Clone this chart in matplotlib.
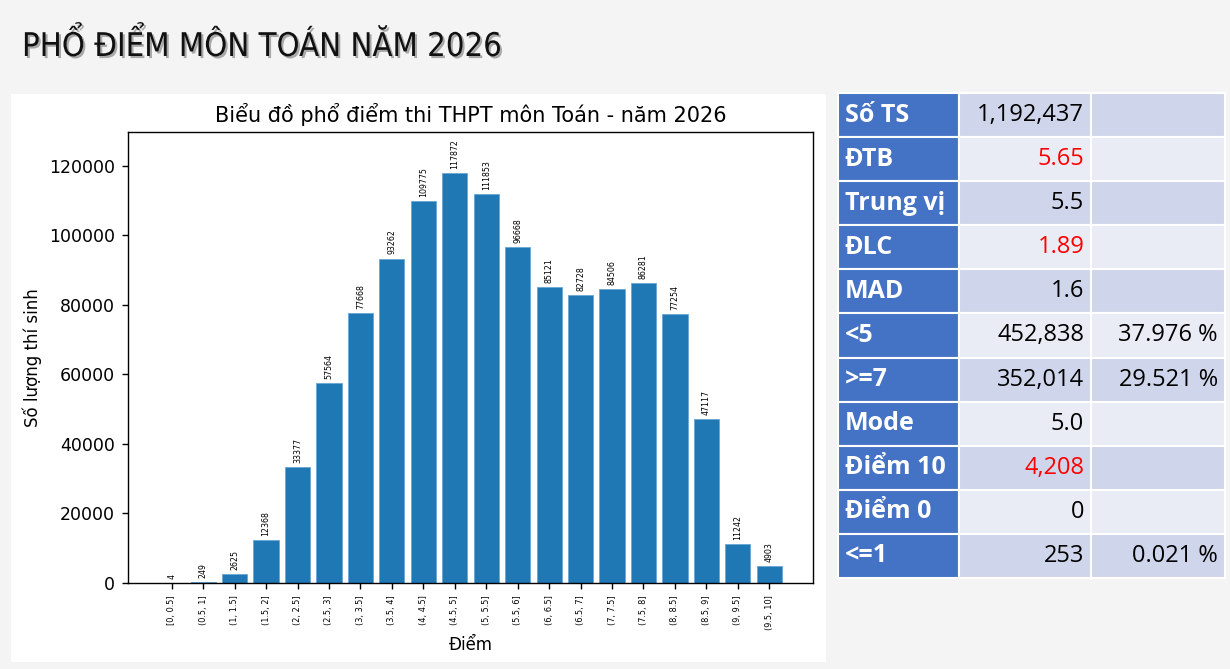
import matplotlib
matplotlib.use('Agg')
import matplotlib.pyplot as plt
import matplotlib.patheffects as pe
from matplotlib.patches import Rectangle
from matplotlib import font_manager

# du lieu pho diem
khoang_diem = ['[0, 0.5]', '(0.5, 1]', '(1, 1.5]', '(1.5, 2]', '(2, 2.5]',
               '(2.5, 3]', '(3, 3.5]', '(3.5, 4]', '(4, 4.5]', '(4.5, 5]',
               '(5, 5.5]', '(5.5, 6]', '(6, 6.5]', '(6.5, 7]', '(7, 7.5]',
               '(7.5, 8]', '(8, 8.5]', '(8.5, 9]', '(9, 9.5]', '(9.5, 10]']
so_luong = [4, 249, 2625, 12368, 33377, 57564, 77668, 93262, 109775, 117872,
            111853, 96668, 85121, 82728, 84506, 86281, 77254, 47117, 11242, 4903]

# bang thong ke
ten_chi_so = ['Số TS', 'ĐTB', 'Trung vị', 'ĐLC', 'MAD', '<5', '>=7',
              'Mode', 'Điểm 10', 'Điểm 0', '<=1']
gia_tri = ['1,192,437', '5.65', '5.5', '1.89', '1.6', '452,838', '352,014',
           '5.0', '4,208', '0', '253']
ti_le = ['', '', '', '', '', '37.976 %', '29.521 %', '', '', '', '0.021 %']
to_do = ['ĐTB', 'ĐLC', 'Điểm 10']  # gia tri mau do

# chon font co san
fonts = font_manager.fontManager.ttflist
def co_font(ten, dam=None, gian=None):
    for f in fonts:
        if f.name != ten:
            continue
        if dam is not None and not (f.weight == dam or f.weight == 'bold' and dam == 700):
            continue
        if gian is not None and f.stretch != gian:
            continue
        return True
    return False

font_bang = 'Noto Sans'
for ten in ['Open Sans', 'Noto Sans', 'Lato', 'Roboto']:
    if co_font(ten, dam=700):
        font_bang = ten
        break

if co_font('Liberation Sans Narrow'):
    font_td, gian_td, size_td = 'Liberation Sans Narrow', 'normal', 26
elif co_font('DejaVu Sans', gian='condensed'):
    font_td, gian_td, size_td = 'DejaVu Sans', 'condensed', 23.5
else:
    font_td, gian_td, size_td = 'Roboto', 'normal', 23

W, H = 1230, 669
fig = plt.figure(figsize=(12.3, 6.69), dpi=100, facecolor='#f4f4f4')

# khung trang chua bieu do
fig.patches.append(Rectangle((11 / W, 7 / H), 815 / W, 568 / H,
                             transform=fig.transFigure, facecolor='white',
                             edgecolor='none', zorder=-1))

fig.text(22 / W, (H - 56) / H, 'PHỔ ĐIỂM MÔN TOÁN NĂM 2026', fontsize=size_td,
         family=[font_td, 'DejaVu Sans'], fontstretch=gian_td, va='baseline',
         color='#111111',
         path_effects=[pe.withSimplePatchShadow(offset=(1.5, -1.5),
                                                shadow_rgbFace='#777777',
                                                alpha=0.6)])

ax = fig.add_axes([128 / W, (H - 583) / H, 685 / W, 451 / H])
x = list(range(len(so_luong)))
ax.bar(x, so_luong, width=0.8, color='#1f77b4', edgecolor='#6aa6d6',
       linewidth=0.6)
for xi, v in zip(x, so_luong):
    ax.annotate(str(v), (xi, v), xytext=(0, 3), textcoords='offset points',
                ha='center', va='bottom', rotation=90, fontsize=5.7)
ax.set_xticks(x, khoang_diem, rotation=90, fontsize=5.9)
ax.set_ylim(0, max(so_luong) * 1.1)
ax.tick_params(axis='y', labelsize=12.5, length=4.5, width=1, pad=5)
ax.tick_params(axis='x', length=4.5, width=1, pad=4.5)
for s in ax.spines.values():
    s.set_linewidth(1)
ax.set_title('Biểu đồ phổ điểm thi THPT môn Toán - năm 2026', fontsize=15,
             pad=7)
ax.set_xlabel('Điểm', fontsize=12, labelpad=4)
ax.set_ylabel('Số lượng thí sinh', fontsize=12, labelpad=5)

# bang ben phai
tax = fig.add_axes([838 / W, (H - 578) / H, 387 / W, 485 / H])
tax.axis('off')
rows = [[a, b, c] for a, b, c in zip(ten_chi_so, gia_tri, ti_le)]
mau = []
for i in range(len(rows)):
    nen = '#cfd5ea' if i % 2 == 0 else '#e9ebf5'
    mau.append(['#4472c4', nen, nen])
tbl = tax.table(cellText=rows, cellColours=mau, cellLoc='right',
                colWidths=[0.313, 0.342, 0.345], bbox=[0, 0, 1, 1])
tbl.auto_set_font_size(False)
for (r, c), cell in tbl.get_celld().items():
    cell.set_edgecolor('white')
    cell.set_linewidth(1.5)
    cell.PAD = 0.055
    t = cell.get_text()
    t.set_family([font_bang, 'DejaVu Sans'])
    t.set_fontsize(17)
    if c == 0:
        t.set_ha('left')
        t.set_color('white')
        t.set_fontweight('bold')
        t.set_fontsize(18)
    elif c == 1 and ten_chi_so[r] in to_do:
        t.set_color('red')

fig.savefig('out.png', dpi=100, facecolor=fig.get_facecolor())
